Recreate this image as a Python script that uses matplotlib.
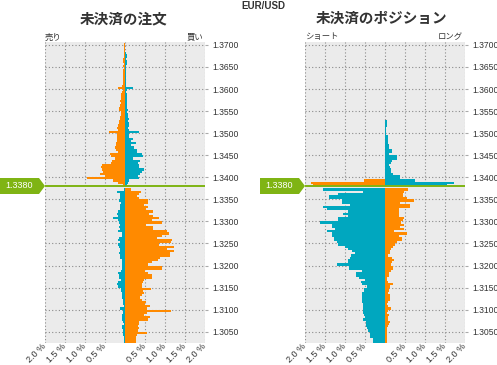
import matplotlib
matplotlib.use("Agg")
import matplotlib.pyplot as plt
import matplotlib.transforms as mtransforms
from matplotlib.patches import Polygon

plt.rcParams['font.family'] = ['Liberation Sans', 'Noto Sans CJK JP', 'DejaVu Sans']

# ---------------- data ----------------
STEP = 0.0005
CURRENT = 1.3380
pair = "EUR/USD"
titles = ["未決済の注文", "未決済のポジション"]
left_labels = ["売り", "ショート"]
right_labels = ["買い", "ロング"]
price_ticks = [1.3050, 1.3100, 1.3150, 1.3200, 1.3250, 1.3300, 1.3350, 1.3400,
               1.3450, 1.3500, 1.3550, 1.3600, 1.3650, 1.3700]
pct_ticks = [-2.0, -1.5, -1.0, -0.5, 0.0, 0.5, 1.0, 1.5, 2.0]
pct_labels = ["2.0 %", "1.5 %", "1.0 %", "0.5 %", "", "0.5 %", "1.0 %", "1.5 %", "2.0 %"]

# buckets above current price: lower edge = CURRENT + k*STEP
orders_sell_above = [0.05, 0.17, 0.29, 0.96, 0.50, 0.62, 0.55, 0.58, 0.60, 0.58,
                     0.35, 0.32, 0.25, 0.35, 0.37, 0.18, 0.22, 0.24, 0.22, 0.22,
                     0.20, 0.21, 0.20, 0.20, 0.40, 0.18, 0.20, 0.17, 0.15, 0.16,
                     0.13, 0.12, 0.11, 0.10, 0.14, 0.15, 0.12, 0.10, 0.12, 0.11,
                     0.09, 0.10, 0.08, 0.06, 0.17, 0.07, 0.06, 0.05, 0.06, 0.05,
                     0.04, 0.05, 0.04, 0.03, 0.04, 0.03, 0.04, 0.06, 0.03, 0.03,
                     0.02, 0.03, 0.03, 0.03, 0.03]
orders_buy_above = [0.05, 0.08, 0.10, 0.35, 0.33, 0.37, 0.42, 0.47, 0.36, 0.34,
                    0.33, 0.37, 0.19, 0.44, 0.42, 0.29, 0.29, 0.22, 0.14, 0.28,
                    0.15, 0.20, 0.10, 0.10, 0.36, 0.09, 0.08, 0.09, 0.10, 0.08,
                    0.10, 0.07, 0.08, 0.06, 0.07, 0.06, 0.05, 0.06, 0.05, 0.04,
                    0.05, 0.04, 0.03, 0.04, 0.20, 0.03, 0.02, 0.03, 0.02, 0.03,
                    0.02, 0.03, 0.02, 0.03, 0.03, 0.05, 0.06, 0.03, 0.04, 0.04,
                    0.02, 0.00, 0.00, 0.00, 0.00]
# buckets below current price: upper edge = CURRENT - m*STEP
orders_sell_below = [0.00, 0.02, 0.20, 0.13, 0.12, 0.13, 0.15, 0.10, 0.12, 0.13,
                     0.12, 0.17, 0.20, 0.17, 0.29, 0.18, 0.15, 0.13, 0.15, 0.12,
                     0.17, 0.08, 0.07, 0.15, 0.17, 0.13, 0.17, 0.15, 0.12, 0.12,
                     0.15, 0.13, 0.12, 0.07, 0.07, 0.07, 0.07, 0.07, 0.10, 0.17,
                     0.15, 0.15, 0.10, 0.18, 0.20, 0.17, 0.10, 0.10, 0.08, 0.08,
                     0.07, 0.05, 0.05, 0.05, 0.03, 0.12, 0.05, 0.05, 0.07, 0.08,
                     0.07, 0.05, 0.03, 0.07, 0.07, 0.05, 0.05, 0.05, 0.03, 0.03,
                     0.03]
orders_buy_below = [0.00, 0.15, 0.40, 0.36, 0.30, 0.35, 0.57, 0.57, 0.47, 0.57,
                    0.52, 0.69, 0.61, 0.71, 0.85, 0.67, 0.93, 0.52, 0.70, 0.70,
                    1.04, 1.10, 0.92, 0.80, 1.17, 1.15, 0.85, 1.22, 1.04, 1.22,
                    1.12, 1.12, 0.88, 0.83, 0.67, 0.58, 0.92, 0.92, 0.50, 0.57,
                    0.67, 0.67, 0.48, 0.44, 0.42, 0.43, 0.65, 0.46, 0.47, 0.42,
                    0.38, 0.42, 0.52, 0.50, 0.62, 0.54, 1.15, 0.54, 0.48, 0.63,
                    0.57, 0.35, 0.35, 0.32, 0.35, 0.32, 0.54, 0.30, 0.28, 0.27,
                    0.27]

pos_short_above = [1.79, 1.85, 0.52, 0, 0, 0, 0, 0, 0, 0,
                   0, 0, 0, 0, 0, 0, 0, 0, 0, 0,
                   0, 0, 0, 0, 0, 0, 0, 0.01, 0, 0]
pos_long_above = [1.54, 1.72, 0.75, 0.37, 0.37, 0.21, 0.15, 0.15, 0.12, 0.10,
                  0.15, 0.18, 0.30, 0.30, 0.11, 0.17, 0.17, 0.11, 0.11, 0.08,
                  0.08, 0.07, 0.07, 0.02, 0.02, 0.03, 0.03, 0.06, 0.05, 0.05]
pos_short_below = [0.00, 1.54, 0.54, 1.17, 1.40, 1.40, 1.07, 1.08, 0.87, 1.54,
                   1.46, 0.92, 1.05, 0.92, 1.17, 1.17, 1.62, 1.33, 1.32, 1.25,
                   1.46, 1.33, 1.32, 1.27, 1.27, 1.20, 1.18, 1.00, 0.92, 0.82,
                   0.75, 0.85, 0.88, 0.92, 0.93, 1.20, 0.90, 0.90, 0.57, 0.72,
                   0.72, 0.65, 0.50, 0.60, 0.57, 0.46, 0.52, 0.52, 0.57, 0.57,
                   0.57, 0.57, 0.58, 0.56, 0.54, 0.55, 0.54, 0.54, 0.52, 0.50,
                   0.54, 0.48, 0.48, 0.48, 0.46, 0.42, 0.37, 0.37, 0.37, 0.29,
                   0.29]
pos_long_below = [0.00, 0.57, 0.48, 0.44, 0.44, 0.54, 0.72, 0.38, 0.62, 0.62,
                  0.35, 0.35, 0.35, 0.35, 0.48, 0.46, 0.40, 0.47, 0.37, 0.48,
                  0.23, 0.54, 0.35, 0.42, 0.42, 0.30, 0.25, 0.20, 0.15, 0.12,
                  0.12, 0.08, 0.18, 0.23, 0.18, 0.15, 0.19, 0.19, 0.15, 0.10,
                  0.10, 0.06, 0.04, 0.08, 0.19, 0.13, 0.11, 0.11, 0.07, 0.12,
                  0.12, 0.12, 0.07, 0.05, 0.07, 0.15, 0.07, 0.06, 0.10, 0.08,
                  0.07, 0.12, 0.10, 0.08, 0.04, 0.04, 0.06, 0.05, 0.04, 0.04,
                  0.04]

# ---------------- style ----------------
W, H = 497, 365
ORANGE = "#ff8a00"
TEAL = "#00a7bf"
GREEN = "#7fb414"
BG = "#ebebeb"
GRID = "#8a8a8a"
TXT = "#333333"
YLIM = (1.30244, 1.37066)

fig = plt.figure(figsize=(W / 100, H / 100), dpi=100)


def fx(x):
    return x / W


def fy(y):
    return 1 - y / H


panels = [
    (45, orders_sell_above, orders_buy_above, orders_sell_below, orders_buy_below),
    (305, pos_short_above, pos_long_above, pos_short_below, pos_long_below),
]
title_cx = [124, 382]

for i, (x0, la, ra, lb, rb) in enumerate(panels):
    ax = fig.add_axes([fx(x0), fy(343), 160 / W, 301 / H])
    ax.set_facecolor(BG)
    ya = [CURRENT + (k + 0.5) * STEP for k in range(len(la))]
    yb = [CURRENT - (m + 0.5) * STEP for m in range(len(lb))]
    ax.barh(ya, [-v for v in la], height=STEP, color=ORANGE, linewidth=0)
    ax.barh(ya, ra, height=STEP, color=TEAL, linewidth=0)
    ax.barh(yb, [-v for v in lb], height=STEP, color=TEAL, linewidth=0)
    ax.barh(yb, rb, height=STEP, color=ORANGE, linewidth=0)
    ax.axhline(CURRENT, color=GREEN, lw=1.4, zorder=5)
    ax.set_xlim(-2.0, 2.0)
    ax.set_ylim(*YLIM)
    ax.set_xticks(pct_ticks)
    ax.set_xticklabels(pct_labels, rotation=45, ha='right', va='center',
                       rotation_mode='anchor', fontsize=6.5, color=TXT)
    offset = mtransforms.ScaledTranslation(3 / 100, 0, fig.dpi_scale_trans)
    for lab in ax.get_xticklabels():
        lab.set_transform(lab.get_transform() + offset)
    ax.set_yticks(price_ticks)
    ax.set_yticklabels(["%.4f" % p for p in price_ticks], fontsize=6.2, color=TXT)
    ax.yaxis.tick_right()
    ax.tick_params(axis='y', length=2, color="#aaaaaa", pad=3)
    ax.tick_params(axis='x', length=0, pad=1)
    ax.grid(True, color=GRID, linestyle=(0, (1, 2)), linewidth=0.8)
    ax.set_axisbelow(True)
    for s in ax.spines.values():
        s.set_visible(False)

    # panel headings
    fig.text(fx(title_cx[i]), fy(18), titles[i],
             family=['Noto Sans CJK JP'], fontsize=10.5, fontweight='bold',
             color=TXT, ha='center', va='center')
    fig.text(fx(x0), fy(37), left_labels[i], family=['Noto Sans CJK JP'],
             fontsize=6, color=TXT, ha='left', va='center')
    fig.text(fx(x0 + 158), fy(37), right_labels[i], family=['Noto Sans CJK JP'],
             fontsize=6, color=TXT, ha='right', va='center')

    # current price tag
    tx = x0 - 45
    pts = [(fx(tx), fy(178)), (fx(x0 - 6), fy(178)), (fx(x0), fy(186)),
           (fx(x0 - 6), fy(194)), (fx(tx), fy(194))]
    fig.patches.append(Polygon(pts, closed=True, transform=fig.transFigure,
                               facecolor=GREEN, edgecolor='none'))
    fig.text(fx(tx + 19), fy(186), "%.4f" % CURRENT, fontsize=6.5, color='white',
             ha='center', va='center')

fig.text(fx(263), fy(6), pair, fontsize=7, fontweight='bold', color=TXT,
         ha='center', va='center')

fig.savefig("out.png", dpi=100, facecolor='white')
